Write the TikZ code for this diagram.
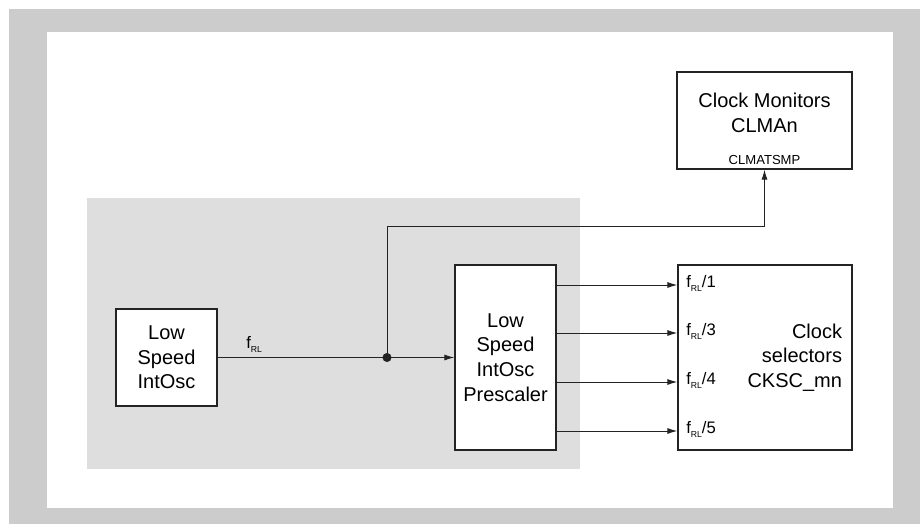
\documentclass[tikz,border=0pt]{standalone}
\usepackage{fontspec}
\setmainfont{Liberation Sans}
\usetikzlibrary{arrows.meta, positioning, calc}
\definecolor{framegray}{RGB}{204,204,204}
\definecolor{areagray}{RGB}{221,222,221}
\definecolor{linedark}{RGB}{35,35,35}
\newcommand{\fsig}{f\raisebox{-0.5ex}{\fontsize{6.5}{7}\selectfont RL}}
\tikzset{
  block/.style={rectangle, draw=linedark, fill=white, line width=1pt,
    align=center, inner sep=0pt, font=\fontsize{15}{18.5}\selectfont},
  wire/.style={line width=0.7pt, color=linedark},
  arrow/.style={-{Latex[length=7.5pt, width=4.5pt]}, line width=0.7pt, color=linedark},
  siglabel/.style={font=\fontsize{12.5}{14}\selectfont, inner sep=0pt, anchor=base west}
}
\begin{document}
\begin{tikzpicture}[x=0.75pt, y=-0.75pt]
  \useasboundingbox (0,0) rectangle (920,524);
  % Frame and shaded area
  \fill[framegray] (9,9) rectangle (920,524);
  \fill[white] (47,32) rectangle (893,508);
  \fill[areagray] (87,198) rectangle (580,469);

  % Blocks
  \node[block, minimum width=101*0.75pt, minimum height=97*0.75pt] (osc) at (166.5,357.5) {Low\\Speed\\IntOsc};
  \node[block, minimum width=101*0.75pt, minimum height=185*0.75pt] (presc) at (505.5,357.5) {Low\\Speed\\IntOsc\\Prescaler};
  \node[block, minimum width=174*0.75pt, minimum height=185*0.75pt] (cksc) at (765,357.5) {};
  \node[block, anchor=east, align=right, draw=none, fill=none] (ckscText) at ($(cksc.east)+(-10,0)$) {Clock\\selectors\\CKSC\_mn};
  \node[block, minimum width=175*0.75pt, minimum height=97*0.75pt, text depth=12pt] (clma) at (764.5,120.5) {Clock Monitors\\CLMAn};
  \node[anchor=south, inner sep=0pt, font=\fontsize{9.8}{11}\selectfont] (tsmp) at ($(clma.south)+(0,-5)$) {CLMATSMP};

  % Oscillator output and branch to monitor
  \coordinate (jn) at (387,357.5);
  \coordinate (bend) at (387,226);
  \draw[arrow] (osc.east) -- (presc.west);
  \node[siglabel] (fosc) at (246,348) {\fsig};
  \fill[linedark] (jn) circle (3.4pt);
  \draw[arrow] (jn) -- (bend) -| (clma.south);

  % Prescaler outputs
  \foreach \y/\d in {285/1, 333/3, 382/4, 431/5} {
    \draw[arrow] (presc.east |- 0,\y) -- (cksc.west |- 0,\y);
    \node[siglabel] (div\d) at (686,\y+2.5) {\fsig/\d};
  }
\end{tikzpicture}
\end{document}
